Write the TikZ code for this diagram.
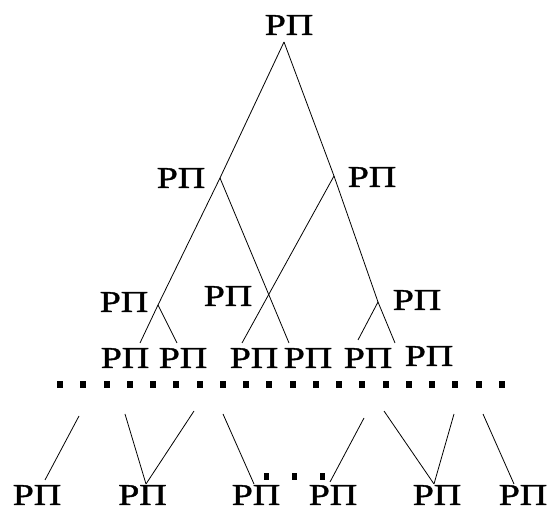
\documentclass[tikz,border=0pt]{standalone}
\usepackage{fontspec}
\usepackage{graphicx}
\setmainfont{Liberation Serif}
\newfontfamily\labfont[AutoFakeBold=1.3]{Liberation Serif}
\begin{document}
\begin{tikzpicture}[x=1pt,y=-1pt,
  lab/.style={inner sep=0pt,outer sep=0pt,font=\labfont\fontsize{30}{30}\selectfont\bfseries},
  edge/.style={line width=0.8pt},
  sq/.style={fill=black,minimum width=6pt,minimum height=7pt,inner sep=0pt},
  sqs/.style={fill=black,minimum width=5pt,minimum height=7pt,inner sep=0pt}]
\useasboundingbox (0,0) rectangle (552,510);
\newcommand{\rp}{\scalebox{1.26}[1]{РП}}
% labels
\node[lab] (t) at (289,25) {\rp};
\node[lab] (l2a) at (181,178) {\rp};
\node[lab] (l2b) at (372,177) {\rp};
\node[lab] (l3a) at (124,302) {\rp};
\node[lab] (l3b) at (228,296) {\rp};
\node[lab] (l3c) at (417,300) {\rp};
\node[lab] (l4a) at (125,358) {\rp};
\node[lab] (l4b) at (183,358) {\rp};
\node[lab] (l4c) at (254,358) {\rp};
\node[lab] (l4d) at (308,358) {\rp};
\node[lab] (l4e) at (368,358) {\rp};
\node[lab] (l4f) at (429,356) {\rp};
\node[lab] (b1) at (37,495) {\rp};
\node[lab] (b2) at (142.5,495) {\rp};
\node[lab] (b3) at (256,495) {\rp};
\node[lab] (b4) at (333,495) {\rp};
\node[lab] (b5) at (437,495) {\rp};
\node[lab] (b6) at (523,495) {\rp};
% junction points
\coordinate (j0) at (284,42);
\coordinate (j1) at (220,178);
\coordinate (j2) at (334,176);
\coordinate (j3) at (158,305);
\coordinate (j4) at (378,302);
\coordinate (e1) at (140,343);
\coordinate (e2) at (177,343);
\coordinate (e3) at (242,343);
\coordinate (e4) at (289,343);
\coordinate (e5) at (358,340);
\coordinate (e6) at (395,343);
\draw[edge] (j0) -- (j1);
\draw[edge] (j0) -- (j2);
\draw[edge] (j1) -- (j3);
\draw[edge] (j1) -- (e4);
\draw[edge] (j2) -- (j4);
\draw[edge] (j2) -- (e3);
\draw[edge] (j3) -- (e1);
\draw[edge] (j3) -- (e2);
\draw[edge] (j4) -- (e5);
\draw[edge] (j4) -- (e6);
% dotted row
\foreach \i in {0,...,19}{
  \node[sq] (d\i) at ({60+23.26*\i},385) {};
}
% small dots
\node[sqs] (m1) at (266.7,477) {};
\node[sqs] (m2) at (294.3,477) {};
\node[sqs] (m3) at (322.7,477) {};
% bottom lines
\coordinate (u1) at (79,416);   \coordinate (v1) at (45,480);
\coordinate (u2) at (125,414);  \coordinate (v2) at (146,484);
\coordinate (u3) at (194,411);
\coordinate (u4) at (223,414);  \coordinate (v4) at (254,484);
\coordinate (u5) at (364,418);  \coordinate (v5) at (330,482);
\coordinate (u6) at (384,411);  \coordinate (v6) at (434,484);
\coordinate (u7) at (454,414);
\coordinate (u8) at (483,414);  \coordinate (v8) at (514,484);
\draw[edge] (u1) -- (v1);
\draw[edge] (u2) -- (v2);
\draw[edge] (u3) -- (v2);
\draw[edge] (u4) -- (v4);
\draw[edge] (u5) -- (v5);
\draw[edge] (u6) -- (v6);
\draw[edge] (u7) -- (v6);
\draw[edge] (u8) -- (v8);
\end{tikzpicture}
\end{document}
